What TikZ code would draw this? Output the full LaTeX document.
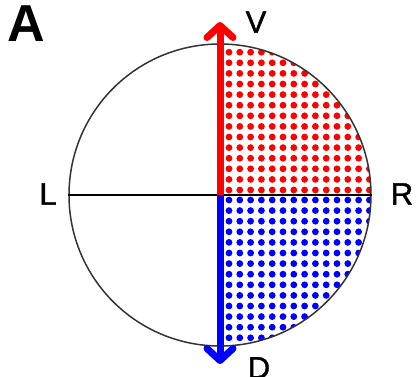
\documentclass[tikz,border=0pt]{standalone}
\usepackage{fontspec}
\setmainfont{Liberation Sans}
\newfontfamily\lblfont[FakeBold=1.2]{Liberation Sans}
\usetikzlibrary{arrows.meta}
\begin{document}
\begin{tikzpicture}[x=1pt,y=-1pt,
  lbl/.style={font=\lblfont\fontsize{31}{31}\selectfont, inner sep=0pt},
  axisarrow/.style={line width=7pt, -{Straight Barb[length=12pt,width=26pt,round]}},
  dotr/.style={fill=red},
  dotb/.style={fill=blue}]
\useasboundingbox (0,0) rectangle (416,376);
\fill[white] (0,0) rectangle (416,376);
\coordinate (C) at (220,195);
% dots, clipped to quadrants
\begin{scope}
  \clip (C) circle (151);
  \clip (221,40) rectangle (372,193);
  \foreach \i in {0,...,14} {
    \foreach \j in {0,...,14} {
      \fill[dotr] (229+\i*10.8, 190-\j*10.6) circle (3.4);
    }
  }
\end{scope}
\begin{scope}
  \clip (C) circle (151);
  \clip (221,196) rectangle (372,350);
  \foreach \i in {0,...,14} {
    \foreach \j in {0,...,14} {
      \fill[dotb] (229+\i*10.8, 200+\j*10.6) circle (3.4);
    }
  }
\end{scope}
\node[circle, draw=black!80, line width=1.5pt, minimum size=302pt, inner sep=0pt] (circ) at (C) {};
\draw[black, line width=1.8pt] (circ.west) -- (circ.east);
\coordinate (vtip) at (220,22);
\coordinate (dtip) at (220,364);
\draw[axisarrow, red] (C) -- (vtip);
\draw[axisarrow, blue] (C) -- (dtip);
\node[lbl] (V) at (256,22) {V};
\node[lbl] (L) at (48,194) {L};
\node[lbl] (R) at (402,194) {R};
\node[lbl, anchor=north] (D) at (259,357) {D};
\node[font=\fontsize{52}{52}\bfseries\selectfont, inner sep=0pt, anchor=north west] (A) at (7,6) {A};
\end{tikzpicture}
\end{document}
